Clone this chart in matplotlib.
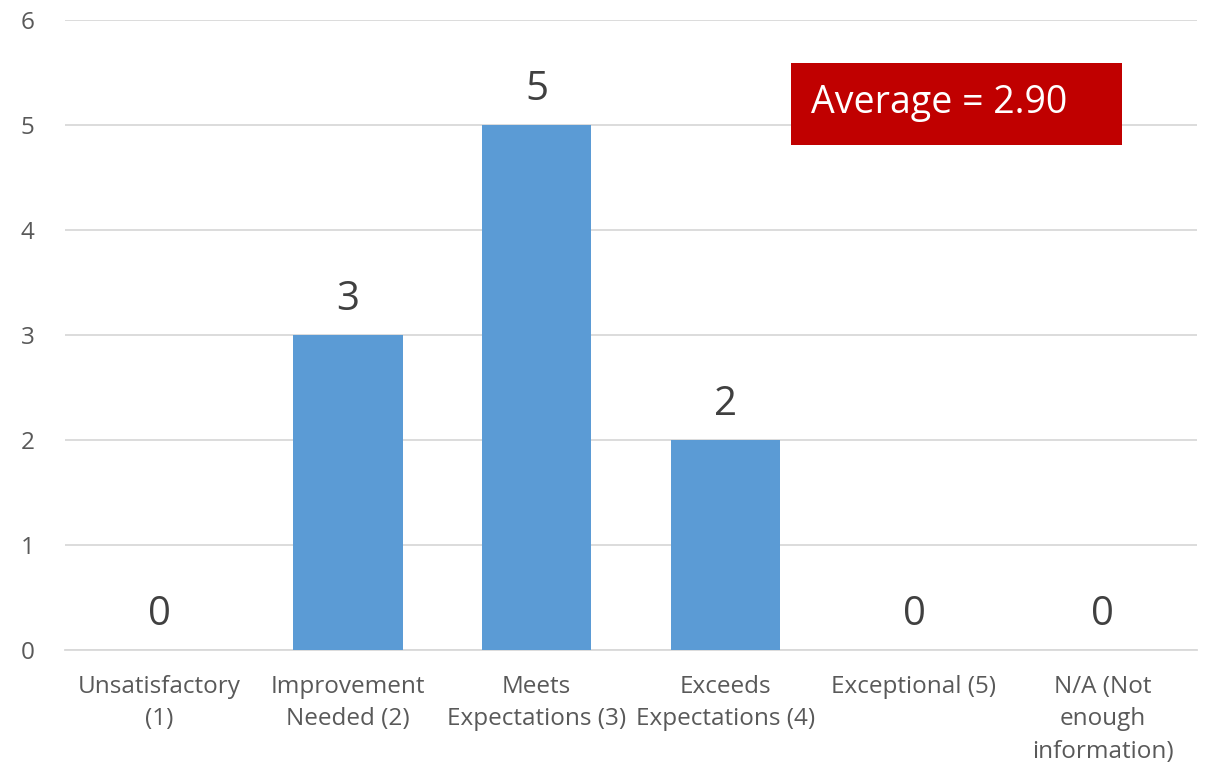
import matplotlib
matplotlib.use("Agg")
import matplotlib.pyplot as plt
from matplotlib.patches import Rectangle
import numpy as np

# Rating categories and response counts
categories = [
    "Unsatisfactory\n(1)",
    "Improvement\nNeeded (2)",
    "Meets\nExpectations (3)",
    "Exceeds\nExpectations (4)",
    "Exceptional (5)",
    "N/A (Not\nenough\ninformation)",
]
counts = [0, 3, 5, 2, 0, 0]
average_score = 2.90

plt.rcParams["font.family"] = ["Open Sans", "DejaVu Sans"]

W, H = 1206, 767
fig = plt.figure(figsize=(W / 100, H / 100), dpi=100)
ax = fig.add_axes([0.054, 0.1525, 0.9385, 0.8215])

x = np.arange(len(categories))
ax.bar(x, counts, width=0.58, color="#5B9BD5", zorder=3)

# value labels above each bar
for xi, c in zip(x, counts):
    ax.text(xi, c + 0.14, str(c), ha="center", va="bottom",
            fontsize=29, color="#404040", zorder=4)

ax.set_xlim(-0.5, len(categories) - 0.5)
ax.set_ylim(0, 6)
ax.set_yticks(range(0, 7))
ax.set_xticks(x)
ax.set_xticklabels(categories, fontsize=17.5, color="#595959", linespacing=1.47)
ax.tick_params(axis="y", labelsize=17.5, labelcolor="#595959", length=0, pad=22)
ax.tick_params(axis="x", length=0, pad=18)

ax.grid(axis="y", color="#D9D9D9", linewidth=1.3, zorder=0)
for side in ["top", "right", "left"]:
    ax.spines[side].set_visible(False)
ax.spines["bottom"].set_color("#D9D9D9")
ax.spines["bottom"].set_linewidth(1.3)

# average callout box
box_x0, box_y0, box_x1, box_y1 = 791, 63, 1122, 145
fig.patches.append(Rectangle((box_x0 / W, 1 - box_y1 / H),
                             (box_x1 - box_x0) / W, (box_y1 - box_y0) / H,
                             transform=fig.transFigure, facecolor="#C00000",
                             edgecolor="none", zorder=5))
fig.text(811 / W, 1 - 103 / H, f"Average = {average_score:.2f}", fontsize=27,
         color="white", ha="left", va="center", zorder=6)

fig.savefig("out.png", dpi=100, facecolor="white")
